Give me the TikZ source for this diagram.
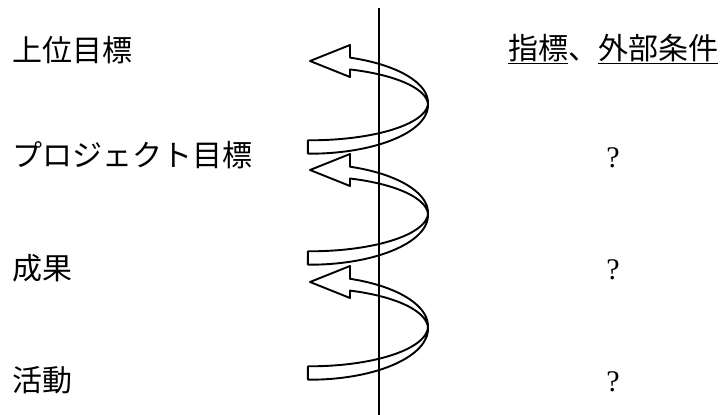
\documentclass[tikz,border=0pt]{standalone}
\usepackage{fontspec}
\newfontfamily\jp{Noto Sans CJK JP}
\newfontfamily\qfont{Liberation Serif}
\begin{document}
\begin{tikzpicture}[x=1pt,y=-1pt,
  lbl/.style={anchor=west, inner sep=0pt, font=\jp\fontsize{30}{30}\selectfont},
  qm/.style={inner sep=0pt, font=\qfont\fontsize{30}{30}\selectfont},
  ribbon/.style={draw=black, fill=white, line width=1.9pt, line join=round},
  axisline/.style={line width=1.5pt}]
\useasboundingbox (0,0) rectangle (724,415);
% labels
\node[lbl] (goal) at (12,50) {上位目標};
\node[lbl] (pgoal) at (12,155) {プロジェクト目標};
\node[lbl] (out) at (12,268) {成果};
\node[lbl] (act) at (12,380) {活動};
\node[lbl] (ind) at (508,49) {\underline{指標}、\underline{外部条件}};
\node[qm] (q1) at (613,158) {?};
\node[qm] (q2) at (613,270) {?};
\node[qm] (q3) at (613,382) {?};
% spiral ribbons
\foreach \cy/\ry in {104/43, 214/44, 327.5/45.5}{
  \filldraw[ribbon]
    plot[domain=0:-91, samples=40, variable=\t]
      ({310+118*cos(\t)}, {\cy-\ry*sin(\t)-1.2+5.5*sin(\t)})
    -- plot[domain=-91:0, samples=40, variable=\t]
      ({310+118*cos(\t)}, {\cy-\ry*sin(\t)+1.2-5.5*sin(\t)})
    -- cycle;
  \filldraw[ribbon]
    (310,{\cy-\ry}) -- (350,{\cy-\ry-16})
    -- plot[domain=70.2:0, samples=40, variable=\t]
      ({310+118*cos(\t)}, {\cy-\ry*sin(\t)-1.2-5*sin(\t)})
    -- plot[domain=0:70.2, samples=40, variable=\t]
      ({310+118*cos(\t)}, {\cy-\ry*sin(\t)+1.2+5*sin(\t)})
    -- (350,{\cy-\ry+16}) -- cycle;
}
% axis
\coordinate (axtop) at (379,8);
\coordinate (axbot) at (379,415);
\draw[axisline] (axtop) -- (axbot);
\end{tikzpicture}
\end{document}
